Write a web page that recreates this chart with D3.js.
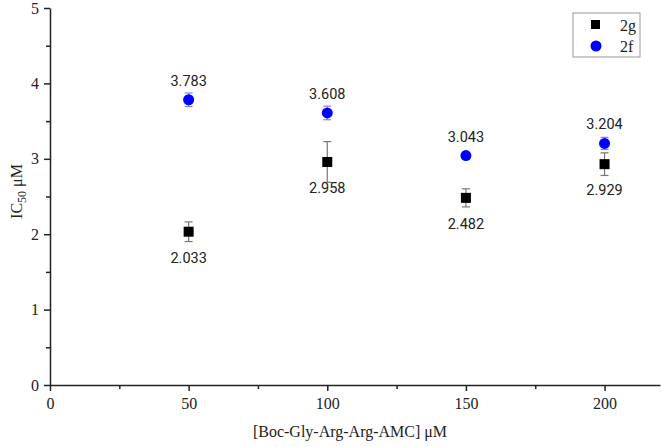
<!DOCTYPE html>
<html>
<head>
<meta charset="utf-8">
<script src="https://cdn.jsdelivr.net/npm/d3@7"></script>
<style>
  body { margin: 0; background: #fff; }
  svg { display: block; overflow: visible; }
</style>
</head>
<body>
<div id="chart"></div>
<script>
// concentrations and IC50 values
const concentrations = [50, 100, 150, 200];
const ic50_2g = [2.033, 2.958, 2.482, 2.929];
const err_2g = [0.13, 0.27, 0.12, 0.15];
const ic50_2f = [3.783, 3.608, 3.043, 3.204];
const err_2f = [0.09, 0.09, 0.02, 0.08];
const xTicks = [0, 50, 100, 150, 200];
const yTicks = [0, 1, 2, 3, 4, 5];

const width = 661, height = 447;
const margin = { top: 8, right: 1, bottom: 62, left: 50 };
const innerWidth = width - margin.left - margin.right;
const innerHeight = height - margin.top - margin.bottom;

const serif = "'Liberation Serif', 'DejaVu Serif', serif";
const sans = "Roboto, 'Noto Sans', sans-serif";

const svg = d3.select("#chart").append("svg")
    .attr("width", width)
    .attr("height", height);

const g = svg.append("g")
    .attr("transform", `translate(${margin.left},${margin.top})`);

const x = d3.scaleLinear().domain([0, 220]).range([0, innerWidth]);
const y = d3.scaleLinear().domain([0, 5]).range([innerHeight, 0]);

// minor ticks first so the major ones draw on top
g.append("g")
    .attr("transform", `translate(0,${innerHeight})`)
    .call(d3.axisBottom(x).tickValues([25, 75, 125, 175]).tickSize(4).tickFormat(""))
    .call(a => a.select(".domain").remove())
    .call(a => a.selectAll("text").remove());
g.append("g")
    .call(d3.axisLeft(y).tickValues([0.5, 1.5, 2.5, 3.5, 4.5]).tickSize(4).tickFormat(""))
    .call(a => a.select(".domain").remove())
    .call(a => a.selectAll("text").remove());

g.append("g")
    .attr("transform", `translate(0,${innerHeight})`)
    .call(d3.axisBottom(x).tickValues(xTicks).tickFormat(d3.format("d"))
        .tickSize(6).tickSizeOuter(0).tickPadding(7))
    .attr("font-family", serif).attr("font-size", 16);
g.append("g")
    .call(d3.axisLeft(y).tickValues(yTicks).tickFormat(d3.format("d"))
        .tickSize(6).tickSizeOuter(0).tickPadding(5))
    .attr("font-family", serif).attr("font-size", 16);

g.selectAll(".tick line, .domain").attr("stroke", "#222").attr("stroke-width", 1.5);
g.selectAll(".tick text").attr("fill", "#222");

// axis titles
g.append("text")
    .attr("x", innerWidth / 2 - 5)
    .attr("y", innerHeight + 52)
    .attr("text-anchor", "middle")
    .attr("font-family", serif)
    .attr("font-size", "16px")
    .attr("fill", "#222")
    .text("[Boc-Gly-Arg-Arg-AMC] \u03bcM");

const yt = g.append("text")
    .attr("transform", `translate(-28,${innerHeight / 2 - 5}) rotate(-90)`)
    .attr("text-anchor", "middle")
    .attr("font-family", serif)
    .attr("font-size", "16px")
    .attr("fill", "#222");
yt.append("tspan").text("IC");
yt.append("tspan").attr("font-size", "12px").attr("dy", 4).text("50");
yt.append("tspan").attr("dy", -4).text(" \u03bcM");

const data2g = concentrations.map((c, i) => ({ c, v: ic50_2g[i], e: err_2g[i] }));
const data2f = concentrations.map((c, i) => ({ c, v: ic50_2f[i], e: err_2f[i] }));

function errorBars(data, color) {
    const eb = g.append("g").attr("stroke", color).attr("stroke-width", 1.2);
    eb.selectAll("line.v").data(data).enter().append("line")
        .attr("x1", d => x(d.c)).attr("x2", d => x(d.c))
        .attr("y1", d => y(d.v + d.e)).attr("y2", d => y(d.v - d.e));
    eb.selectAll("line.t").data(data).enter().append("line")
        .attr("x1", d => x(d.c) - 4).attr("x2", d => x(d.c) + 4)
        .attr("y1", d => y(d.v + d.e)).attr("y2", d => y(d.v + d.e));
    eb.selectAll("line.b").data(data).enter().append("line")
        .attr("x1", d => x(d.c) - 4).attr("x2", d => x(d.c) + 4)
        .attr("y1", d => y(d.v - d.e)).attr("y2", d => y(d.v - d.e));
}

errorBars(data2g, "#777");
errorBars(data2f, "#8080ff");

// 2g squares
g.selectAll(".sq").data(data2g).enter().append("rect")
    .attr("x", d => x(d.c) - 5).attr("y", d => y(d.v) - 5)
    .attr("width", 10).attr("height", 10)
    .attr("fill", "#000");

// 2f circles
g.selectAll(".ci").data(data2f).enter().append("circle")
    .attr("cx", d => x(d.c)).attr("cy", d => y(d.v))
    .attr("r", 5.5)
    .attr("fill", "#0000ff");

// value labels
g.selectAll(".lg").data(data2g).enter().append("text")
    .attr("x", d => x(d.c)).attr("y", d => y(d.v) + 31)
    .attr("text-anchor", "middle")
    .attr("font-family", sans).attr("font-size", "14.5px").attr("fill", "#222")
    .text(d => d.v.toFixed(3));
g.selectAll(".lf").data(data2f).enter().append("text")
    .attr("x", d => x(d.c)).attr("y", d => y(d.v) - 14)
    .attr("text-anchor", "middle")
    .attr("font-family", sans).attr("font-size", "14.5px").attr("fill", "#222")
    .text(d => d.v.toFixed(3));

// legend
const legend = svg.append("g").attr("transform", "translate(573,13)");
legend.append("rect")
    .attr("width", 67).attr("height", 44)
    .attr("fill", "#fff").attr("stroke", "#999").attr("stroke-width", 1);
legend.append("rect").attr("x", 18).attr("y", 7).attr("width", 9).attr("height", 9).attr("fill", "#000");
legend.append("circle").attr("cx", 23).attr("cy", 33).attr("r", 5.5).attr("fill", "#0000ff");
legend.append("text").attr("x", 47).attr("y", 18)
    .attr("font-family", serif).attr("font-size", "16px").attr("fill", "#222").text("2g");
legend.append("text").attr("x", 47).attr("y", 39)
    .attr("font-family", serif).attr("font-size", "16px").attr("fill", "#222").text("2f");
</script>
</body>
</html>
